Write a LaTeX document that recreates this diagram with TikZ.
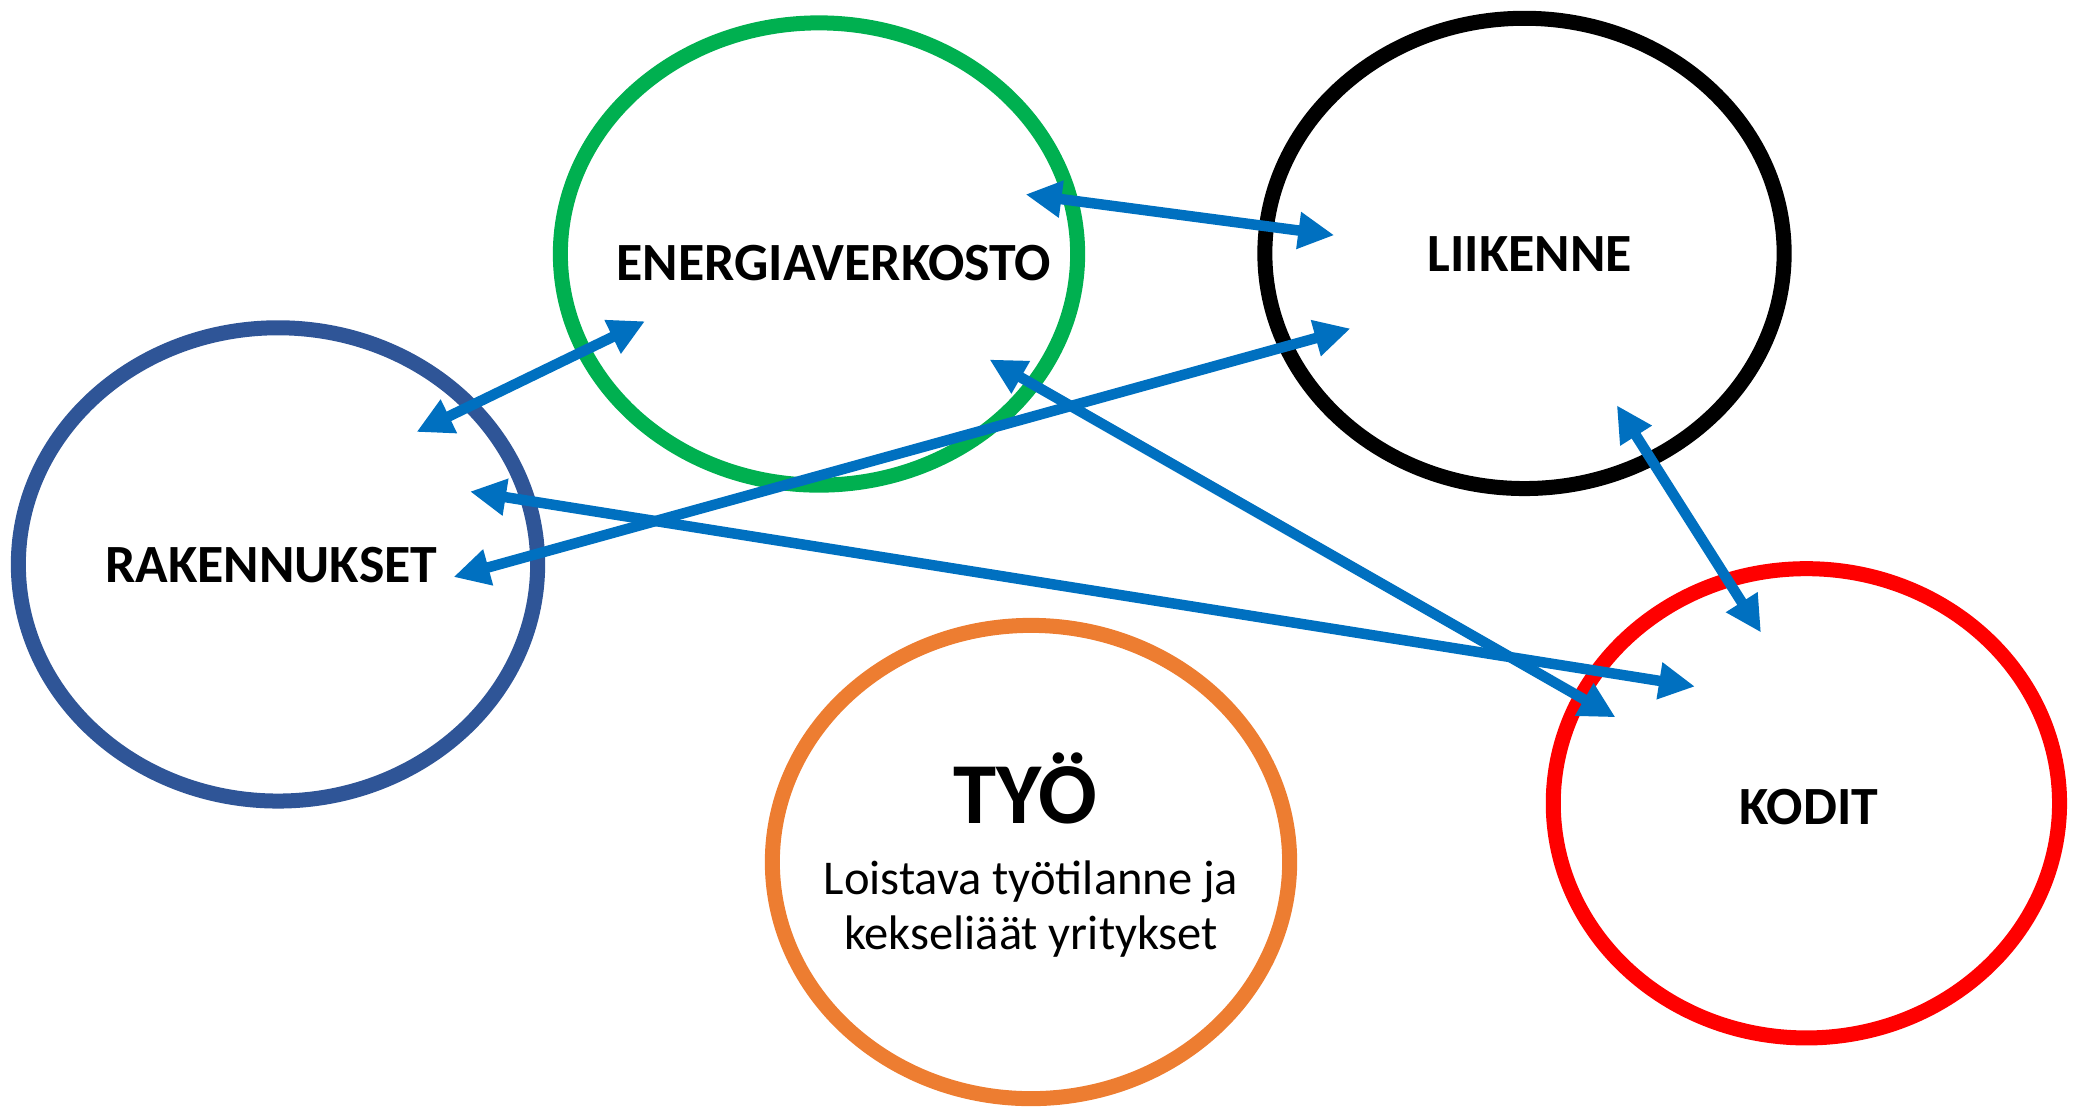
\documentclass[tikz,border=0pt]{standalone}
\usepackage{fontspec}
\setmainfont{Carlito}
\usetikzlibrary{shapes.geometric,arrows.meta}
\definecolor{cgreen}{HTML}{00B050}
\definecolor{cnavy}{HTML}{2F5597}
\definecolor{cred}{HTML}{FF0000}
\definecolor{corange}{HTML}{ED7D31}
\definecolor{carrow}{HTML}{0070C0}
\tikzset{
  oval/.style={ellipse, draw, line width=0.15cm, inner sep=0pt},
  lbl/.style={font=\fontsize{15.3}{18}\selectfont\bfseries, inner sep=0pt},
  sub/.style={font=\fontsize{13.8}{17}\selectfont, inner sep=0pt},
  link/.style={draw=carrow, line width=0.105cm,
    {Triangle[length=0.36cm,width=0.35cm]}-{Triangle[length=0.36cm,width=0.35cm]}}
}
\begin{document}
\begin{tikzpicture}[x=0.01cm,y=-0.01cm]
\useasboundingbox (0,0) rectangle (2075,1108);
% ovals
\node[oval, draw=cgreen, minimum width=517cm/100, minimum height=462cm/100] (energy) at (819,254) {};
\node[oval, draw=black, minimum width=519cm/100, minimum height=470cm/100] (traffic) at (1524.5,253.4) {};
\node[oval, draw=cnavy, minimum width=519cm/100, minimum height=473cm/100] (build) at (278,564.4) {};
\node[oval, draw=cred, minimum width=506cm/100, minimum height=469cm/100] (homes) at (1806.4,803.3) {};
\node[oval, draw=corange, minimum width=517cm/100, minimum height=473cm/100] (work) at (1031,862) {};
% labels
\node[lbl] (tenergy) at (833.8,263.4) {ENERGIAVERKOSTO};
\node[lbl] (ttraffic) at (1529.8,254) {LIIKENNE};
\node[lbl] (tbuild) at (271.3,565) {RAKENNUKSET};
\node[lbl] (thomes) at (1809,807) {KODIT};
\node[font=\fontsize{24.7}{29}\selectfont\bfseries, inner sep=0pt] (twork) at (1025.6,788) {TYÖ};
\node[sub] (tsub1) at (1031,882) {Loistava työtilanne ja};
\node[sub] (tsub2) at (1031,937) {kekseliäät yritykset};
% arrow end points
\coordinate (e1a) at (1025.6,194.4);
\coordinate (e1b) at (1334.3,235.2);
\coordinate (e2a) at (416.5,432);
\coordinate (e2b) at (645,321.2);
\coordinate (e3a) at (453.5,577);
\coordinate (e3b) at (1350.5,328.5);
\coordinate (e4a) at (470,491.5);
\coordinate (e4b) at (1695,686.5);
\coordinate (e5a) at (989.5,359.5);
\coordinate (e5b) at (1615.5,717.3);
\coordinate (e6a) at (1616.8,405.3);
\coordinate (e6b) at (1761,632.5);
% connectors
\draw[link] (e1a) -- (e1b);
\draw[link] (e2a) -- (e2b);
\draw[link] (e3a) -- (e3b);
\draw[link] (e4a) -- (e4b);
\draw[link] (e5a) -- (e5b);
\draw[link] (e6a) -- (e6b);
\end{tikzpicture}
\end{document}
